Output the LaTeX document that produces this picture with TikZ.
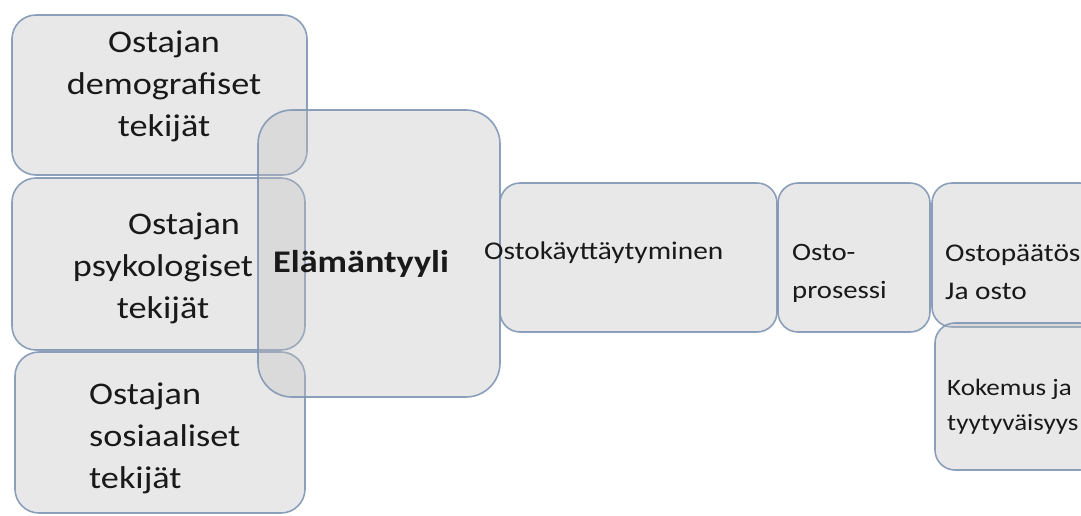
\documentclass[tikz,border=0pt]{standalone}
\usepackage{fontspec}
\setmainfont[FakeStretch=1.15]{Carlito}
\usepackage{tikz}

\definecolor{boxline}{RGB}{128,150,180}
\definecolor{boxfill}{RGB}{190,190,192}
\definecolor{ink}{RGB}{25,25,25}

\begin{document}
\begin{tikzpicture}[yscale=-1, x=1pt, y=1pt,
    box/.style={draw=boxline, line width=1.6pt, fill=boxfill, fill opacity=0.35,
      draw opacity=0.9, rounded corners=#1},
    box/.default=20pt,
    label/.style={inner sep=0pt, text=ink, font=\fontsize{31.5}{42}\selectfont}]
      \useasboundingbox (0,0) rectangle (1081,515);

      % Buyer factors
      \draw [box=24pt] (12,15) rectangle (307,175);
      \node (demo) [label, align=center] at (164,86) {Ostajan\\demografiset\\tekijät};

      \draw [box=24pt] (12,178) rectangle (305,350);
      \node (psyk) [label, align=center] at (163,268) {\hspace*{42pt}Ostajan\\psykologiset\\tekijät};

      \draw [box=24pt] (15,352) rectangle (305,513);
      \node (sos) [label, align=left, anchor=west] at (89,438) {Ostajan\\sosiaaliset\\tekijät};

      % Lifestyle
      \draw [box=34pt] (258,110) rectangle (500,397);
      \node (life) [label, anchor=west, font=\fontsize{31.5}{40}\selectfont\bfseries] at (273,264) {Elämäntyyli};

      % Buying behaviour
      \draw [box=20pt] (500,183) rectangle (777,332);
      \draw [box=20pt] (778,183) rectangle (930,332);
      \draw [box=20pt] (932,183) rectangle (1100,327);
      \draw [box=20pt] (935,323) rectangle (1100,470);

      \node (beh) [label, anchor=west, font=\fontsize{25.5}{38}\selectfont] at (484,253) {Ostokäyttäytyminen};
      \node (proc) [label, anchor=west, align=left, font=\fontsize{25}{38}\selectfont] at (792,273) {Osto-\\prosessi};
      \node (dec) [label, anchor=west, align=left, font=\fontsize{25.5}{38}\selectfont] at (945,272) {Ostopäätös\\Ja osto};
      \node (exp) [label, anchor=west, align=left, font=\fontsize{23.5}{35}\selectfont] at (947,407) {Kokemus ja\\tyytyväisyys};
    \end{tikzpicture}
\end{document}
